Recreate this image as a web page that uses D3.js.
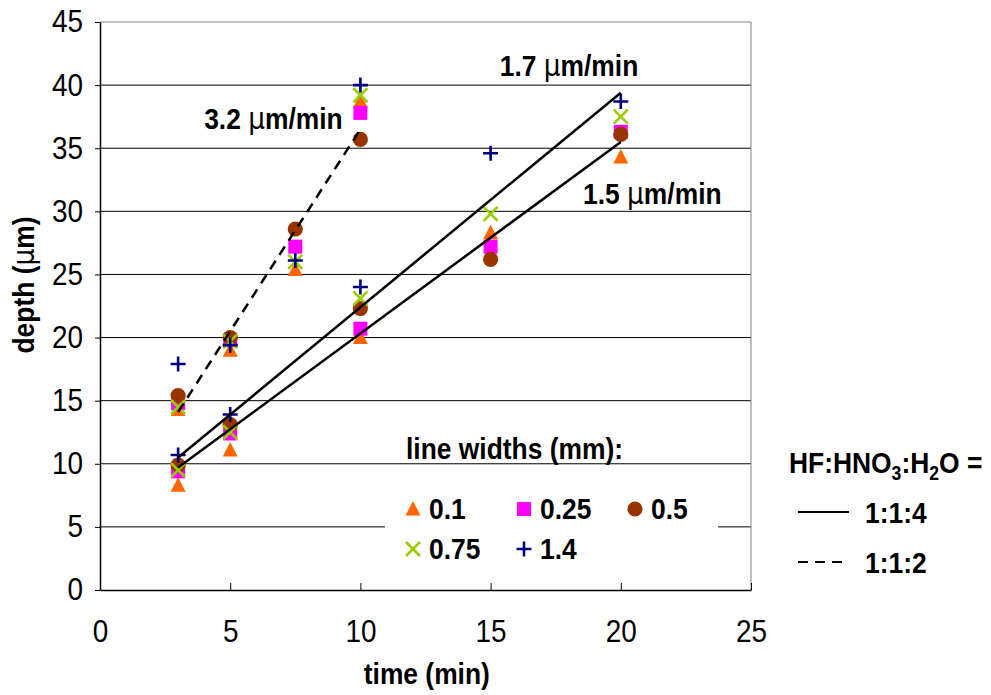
<!DOCTYPE html>
<html>
<head>
<meta charset="utf-8">
<script src="https://cdn.jsdelivr.net/npm/d3@7"></script>
<style>
  body { margin: 0; background: #fff; }
  text { font-family: "Liberation Sans", Arial, sans-serif; fill: #000; }
</style>
</head>
<body>
<script>
// measured times (min): first five belong to the 1:1:4 etch, last four to 1:1:2
var times = [3, 5, 10, 15, 20, 3, 5, 7.5, 10];

// depth (um) for each line width, aligned with times
var depth01  = [8.3, 11.1, 20.0, 28.3, 34.3, 14.3, 19.0, 25.4, 38.7];
var depth025 = [9.4, 12.4, 20.7, 27.2, 36.3, 14.8, 19.8, 27.2, 37.8];
var depth05  = [9.9, 13.1, 22.3, 26.2, 36.1, 15.4, 20.0, 28.6, 35.7];
var depth075 = [9.5, 12.5, 23.1, 29.8, 37.5, 14.5, 19.7, 26.0, 39.2];
var depth14  = [10.7, 13.9, 24.0, 34.6, 38.7, 17.9, 19.4, 26.1, 40.0];

var seriesNames = ["0.1", "0.25", "0.5", "0.75", "1.4"];

// fitted etch-rate lines: [start time, end time], [start depth, end depth]
var fitTimes = [[3, 20], [3, 20], [3, 10]];
var fitDepths = [[10.5, 39.4], [9.7, 35.5], [14.1, 36.5]];
var fitLabels = ["1.7", "1.5", "3.2"];
var fitLabelAt = [[15.35, 40.7], [18.55, 30.6], [4.0, 36.5]];

var xTicks = [0, 5, 10, 15, 20, 25];
var yTicks = [0, 5, 10, 15, 20, 25, 30, 35, 40, 45];

var margin = {top: 22, right: 240, bottom: 105, left: 100},
    width = 991 - margin.left - margin.right,
    height = 695 - margin.top - margin.bottom;

// the original text is a little narrower than it is tall
var squeeze = 0.88;

var x = d3.scaleLinear().domain([0, 25]).range([0, width]);
var y = d3.scaleLinear().domain([0, 45]).range([height, 0]);

var svg = d3.select("body").append("svg")
    .attr("width", 991)
    .attr("height", 695);

var g = svg.append("g")
    .attr("transform", "translate(" + margin.left + "," + margin.top + ")");

function boldText(parent, px, py, anchor) {
    return parent.append("text")
        .attr("transform", "translate(" + px + "," + py + ") scale(" + squeeze + ",1)")
        .attr("text-anchor", anchor || "start")
        .style("font-size", "30px")
        .style("font-weight", "bold");
}

function addMu(t) {
    t.append("tspan").style("font-family", "'DejaVu Sans', sans-serif").style("font-weight", "normal").text("μ");
}

// horizontal gridlines
g.selectAll(".grid")
    .data(yTicks.slice(1))
    .enter().append("line")
    .attr("x1", 0).attr("x2", width)
    .attr("y1", function(d) { return y(d); })
    .attr("y2", function(d) { return y(d); })
    .attr("stroke", function(d) { return d === 45 ? "#808080" : "#000"; })
    .attr("stroke-width", 1);

// right border
g.append("line")
    .attr("x1", width).attr("x2", width)
    .attr("y1", 0).attr("y2", height)
    .attr("stroke", "#808080");

// legend box hides the gridline behind it
g.append("rect")
    .attr("x", 285).attr("y", 448)
    .attr("width", 333).attr("height", 112)
    .attr("fill", "#fff");

// axes
var xAxis = g.append("g")
    .attr("transform", "translate(0," + height + ")")
    .call(d3.axisBottom(x).tickValues(xTicks).tickSizeInner(-7).tickSizeOuter(0).tickPadding(30));
var yAxis = g.append("g")
    .call(d3.axisLeft(y).tickValues(yTicks).tickSizeInner(5).tickSizeOuter(0).tickPadding(14));

[xAxis, yAxis].forEach(function(a) {
    a.select(".domain").attr("stroke", "#000").attr("stroke-width", 1.5);
    a.selectAll(".tick line").attr("stroke", "#000");
    a.selectAll("text")
        .style("font-family", "'Liberation Sans', Arial, sans-serif")
        .style("font-size", "31px")
        .attr("fill", "#000")
        .attr("transform", "scale(0.9,1)");
});
yAxis.selectAll("text").attr("x", -17 / 0.9);

// marker shapes
var colors = ["#FF6600", "#FF00FF", "#993300", "#99CC00", "#000080"];

function crossPath(r, diag) {
    if (diag) return "M" + (-r) + "," + (-r) + "L" + r + "," + r + "M" + (-r) + "," + r + "L" + r + "," + (-r);
    return "M" + (-r) + ",0L" + r + ",0M0," + (-r) + "L0," + r;
}

function drawMarker(sel, i) {
    if (i === 0) {
        sel.append("path").attr("d", "M0,-8L7.5,6.5L-7.5,6.5Z")
            .attr("fill", colors[i]);
    } else if (i === 1) {
        sel.append("rect").attr("x", -7).attr("y", -7)
            .attr("width", 14).attr("height", 14).attr("fill", colors[i]);
    } else if (i === 2) {
        sel.append("circle").attr("r", 7.6).attr("fill", colors[i]);
    } else if (i === 3) {
        sel.append("path").attr("d", crossPath(7, true))
            .attr("stroke", colors[i]).attr("stroke-width", 2.6).attr("fill", "none");
    } else {
        sel.append("path").attr("d", crossPath(7.5, false))
            .attr("stroke", colors[i]).attr("stroke-width", 2.6).attr("fill", "none");
    }
}

var allDepths = [depth01, depth025, depth05, depth075, depth14];

allDepths.forEach(function(vals, i) {
    g.selectAll(".pt" + i)
        .data(vals)
        .enter().append("g")
        .attr("class", "pt" + i)
        .attr("transform", function(d, j) { return "translate(" + x(times[j]) + "," + y(d) + ")"; })
        .each(function() { drawMarker(d3.select(this), i); });
});

// fitted lines
fitTimes.forEach(function(t, i) {
    g.append("line")
        .attr("x1", x(t[0])).attr("y1", y(fitDepths[i][0]))
        .attr("x2", x(t[1])).attr("y2", y(fitDepths[i][1]))
        .attr("stroke", "#000")
        .attr("stroke-width", 2.5)
        .attr("stroke-dasharray", i === 2 ? "10,7" : null);

    var lab = boldText(g, x(fitLabelAt[i][0]), y(fitLabelAt[i][1]));
    lab.append("tspan").text(fitLabels[i] + " ");
    addMu(lab);
    lab.append("tspan").text("m/min");
});

// axis titles
boldText(svg, margin.left + x(12.55), 684, "middle").text("time (min)");

var yt = svg.append("text")
    .attr("transform", "translate(34,285) rotate(-90) scale(" + squeeze + ",1)")
    .attr("text-anchor", "middle")
    .style("font-size", "30px")
    .style("font-weight", "bold");
yt.append("tspan").text("depth (");
addMu(yt);
yt.append("tspan").text("m)");

// line width legend
var leg = svg.append("g");
boldText(leg, 406, 459).text("line widths (mm):");

var legPos = [[413, 509], [524, 509], [635, 509], [413, 549], [524, 549]];
seriesNames.forEach(function(name, i) {
    var item = leg.append("g").attr("transform", "translate(" + legPos[i][0] + "," + legPos[i][1] + ")");
    drawMarker(item, i);
    boldText(item, 16, 10).text(name);
});

// etchant legend
var leg2 = svg.append("g");
var t2 = boldText(leg2, 789, 473);
t2.append("tspan").text("HF:HNO");
t2.append("tspan").attr("dy", 7).style("font-size", "20px").text("3");
t2.append("tspan").attr("dy", -7).text(":H");
t2.append("tspan").attr("dy", 7).style("font-size", "20px").text("2");
t2.append("tspan").attr("dy", -7).text("O =");

var ratios = ["1:1:4", "1:1:2"];
ratios.forEach(function(r, i) {
    var yy = i === 0 ? 512 : 562;
    leg2.append("line")
        .attr("x1", 798).attr("x2", 849)
        .attr("y1", yy).attr("y2", yy)
        .attr("stroke", "#000").attr("stroke-width", 2)
        .attr("stroke-dasharray", i === 1 ? "10,7" : null);
    boldText(leg2, 865, yy + 11).text(r);
});
</script>
</body>
</html>
